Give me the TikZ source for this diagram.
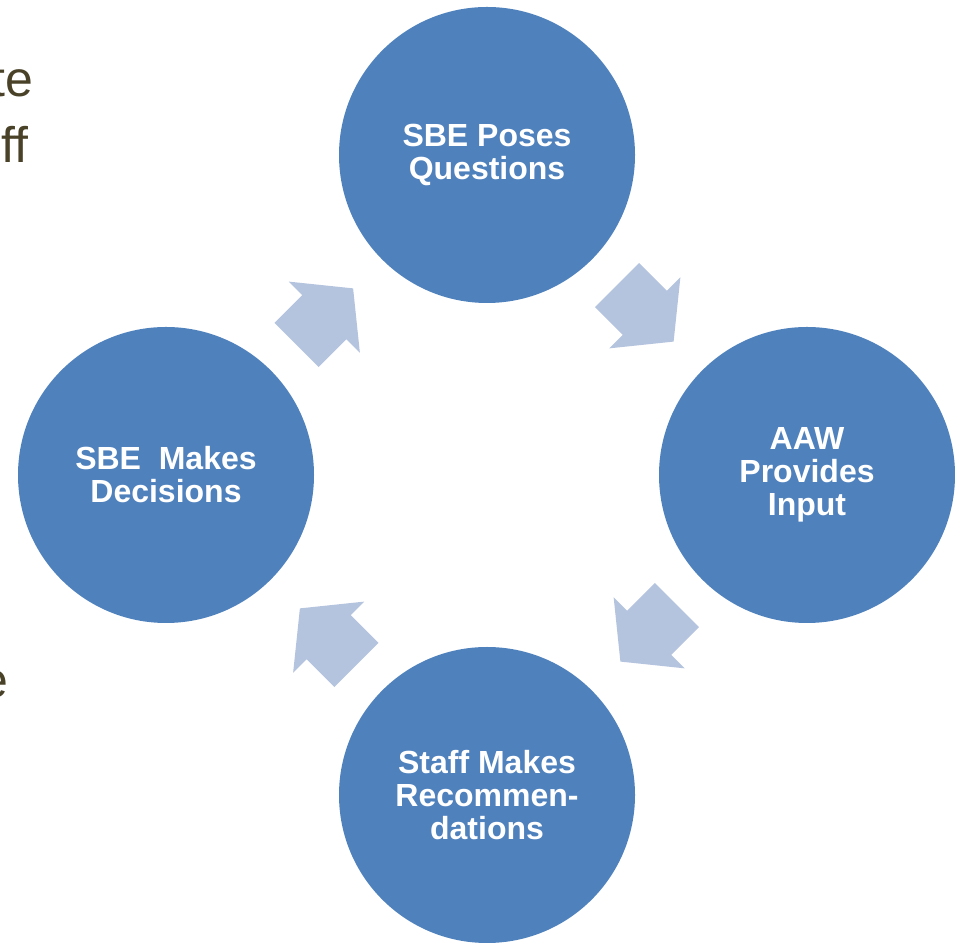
\documentclass[tikz,border=0pt]{standalone}
\usepackage{fontspec}
\setmainfont{Liberation Sans}
\usetikzlibrary{shapes.arrows,calc}
\definecolor{stageblue}{RGB}{79,129,189}
\definecolor{turnblue}{RGB}{180,195,222}
\definecolor{slideolive}{RGB}{74,66,40}

\begin{document}
\begin{tikzpicture}[x=1pt,y=1pt,
        stage/.style={
            circle, fill=stageblue, draw=none,
            minimum size=296pt, inner sep=0pt,
            align=center, text=white,
            font=\fontsize{32}{33}\selectfont\bfseries
        },
        turn/.style={
            shape=single arrow, fill=turnblue, draw=none,
            inner xsep=0pt, inner ysep=31pt,
            minimum width=100pt, minimum height=80pt,
            single arrow head extend=19pt, single arrow tip angle=102,
            rotate=#1, xshift=-15pt
        },
        slide text/.style={
            anchor=base east, inner sep=0pt, text=slideolive,
            font=\fontsize{50}{60}\selectfont
        }]
      \useasboundingbox (0,0) rectangle (955,944);
      \clip (0,0) rectangle (955,944);
      % cut-off slide text on the left
      \node[slide text] (cutte) at (33,847) {te};
      \node[slide text] (cutff) at (29,781) {ff};
      \node[slide text] (cute) at (9,246) {e};
      % the four stages
      \node[stage] (poses) at (487,789) {SBE Poses\\Questions};
      \node[stage] (input) at (807,469) {AAW\\Provides\\Input};
      \node[stage] (recs) at (487,149) {Staff Makes\\Recommen-\\dations};
      \node[stage] (decides) at (166,469) {SBE\ \ Makes\\Decisions};
      % block arrows between them
      \node[turn=-45] (toinput) at ($(poses)!0.5!(input)$) {};
      \node[turn=-135] (torecs) at ($(input)!0.5!(recs)$) {};
      \node[turn=135] (todecides) at ($(recs)!0.5!(decides)$) {};
      \node[turn=45] (toposes) at ($(decides)!0.5!(poses)$) {};
    \end{tikzpicture}
\end{document}
